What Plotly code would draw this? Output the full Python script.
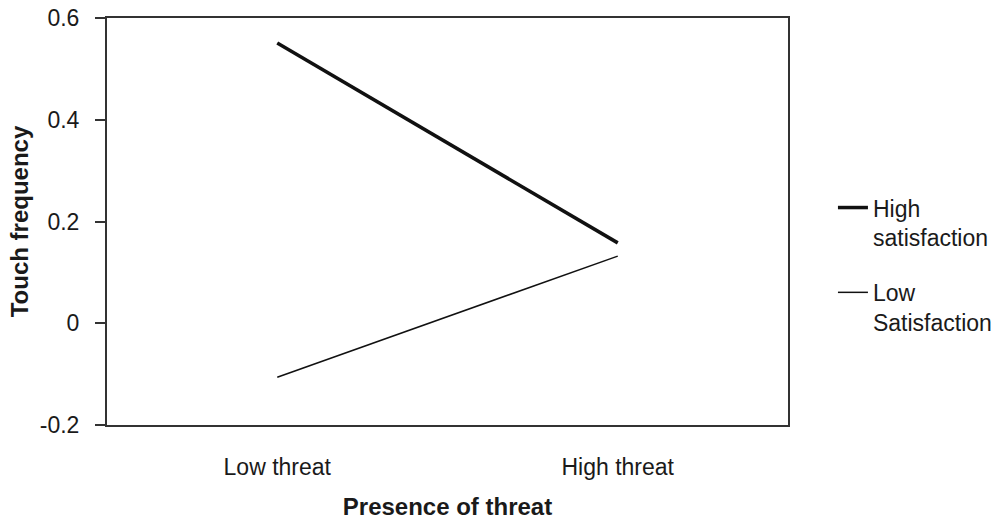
import plotly.graph_objects as go

categories = ["Low threat", "High threat"]
high_satisfaction = [0.551, 0.158]
low_satisfaction = [-0.106, 0.132]
y_ticks = [-0.2, 0, 0.2, 0.4, 0.6]
y_tick_labels = ["-0.2", "0", "0.2", "0.4", "0.6"]

FONT = "Liberation Sans, Arial, sans-serif"

fig = go.Figure()
fig.add_trace(go.Scatter(x=categories, y=high_satisfaction, mode="lines",
                         name="High<br>satisfaction", legendgroup="a",
                         line=dict(color="#111111", width=3.5)))
fig.add_trace(go.Scatter(x=categories, y=low_satisfaction, mode="lines",
                         name="Low<br>Satisfaction", legendgroup="b",
                         line=dict(color="#111111", width=1.5)))

fig.update_layout(
    width=1002, height=522,
    margin=dict(l=107, r=214, t=18, b=97, autoexpand=False),
    paper_bgcolor="white", plot_bgcolor="white",
    font=dict(family=FONT, size=24, color="#1a1a1a"),
    showlegend=True,
    legend=dict(x=1.066, y=0.587, xanchor="left", yanchor="top",
                valign="top", tracegroupgap=22,
                font=dict(family=FONT, size=23, color="#1a1a1a"),
                bgcolor="rgba(0,0,0,0)"),
    xaxis=dict(type="category", range=[-0.5, 1.5], showgrid=False,
               automargin=False,
               showline=True, linecolor="#333333", linewidth=2, mirror=True,
               ticks="", ticklabelstandoff=20,
               tickfont=dict(family=FONT, size=23, color="#1a1a1a"),
               title=dict(text="<b>Presence of threat</b>", standoff=20,
                          font=dict(family=FONT, size=24, color="#1a1a1a")),
               zeroline=False),
    yaxis=dict(range=[-0.2, 0.6], tickvals=y_ticks, ticktext=y_tick_labels,
               showgrid=False, zeroline=False, automargin=False,
               showline=True, linecolor="#333333", linewidth=2, mirror=True,
               ticks="outside", ticklen=10, tickwidth=2, tickcolor="#333333",
               ticklabelstandoff=11,
               tickfont=dict(family=FONT, size=23, color="#1a1a1a"),
               title=dict(text="<b>Touch frequency</b>", standoff=4,
                          font=dict(family=FONT, size=24, color="#1a1a1a"))),
)

# remove the browser's default 8px body margin so the figure fills the window
fig.write_html("out.html",
               config={"displayModeBar": False},
               post_script="document.body.style.margin='0';"
                           "document.body.style.overflow='hidden';")
